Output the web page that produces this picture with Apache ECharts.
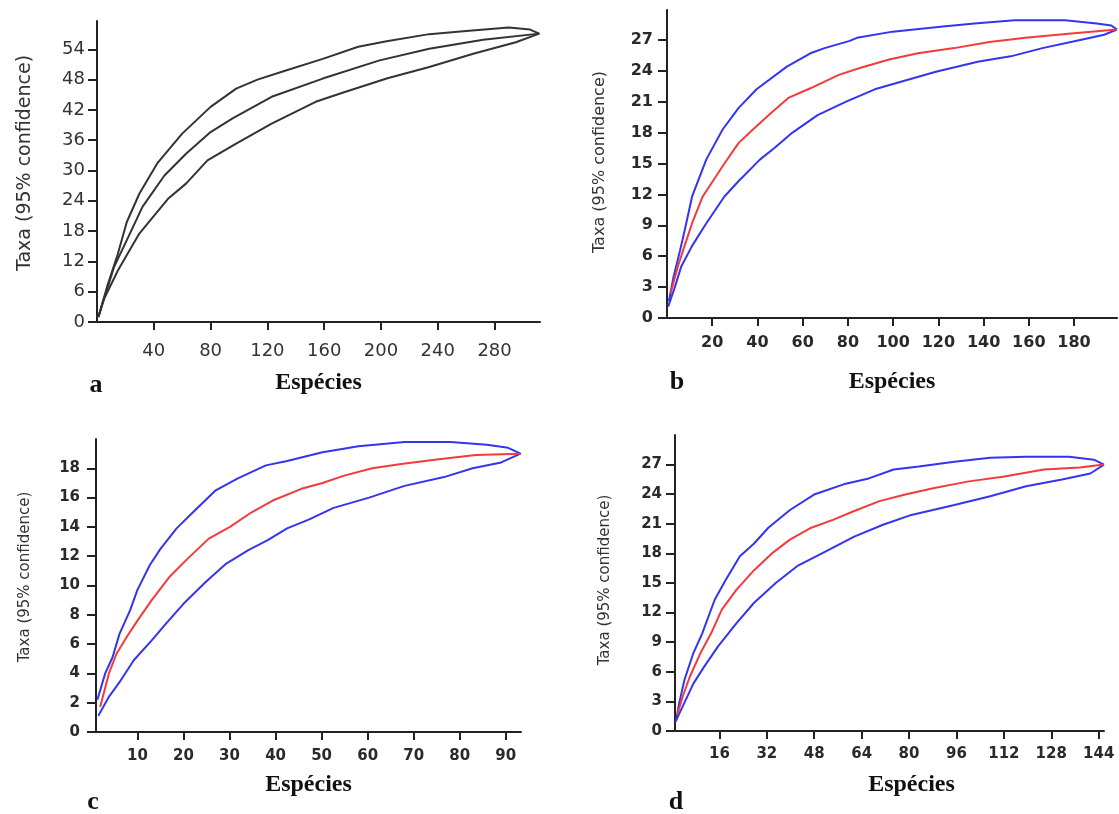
<!DOCTYPE html>
<html>
<head>
<meta charset="utf-8">
<script src="https://cdn.jsdelivr.net/npm/echarts@6/dist/echarts.min.js"></script>
<style>
  html, body { margin: 0; padding: 0; background: #fff; }
  #chart { width: 1119px; height: 814px; }
</style>
</head>
<body>
<div id="chart"></div>
<script>
  // panel a (black curves)
  const aUpper = [[1,1],[7,6.9],[14.7,13.5],[21,19.8],[29.8,25.4],[42.4,31.4],[60,37.3],[80,42.6],[98,46.2],[113,48],[133,49.8],[159,52.1],[184,54.5],[204,55.6],[234,57],[260,57.6],[290,58.3],[305,57.9],[311.5,57.1]]
  const aMean = [[1,1],[6,5.5],[12,10.9],[22,16.8],[32,22.8],[47.5,29],[62.7,33.3],[80,37.6],[95.5,40.3],[123,44.6],[159,48.2],[199,51.8],[234,54.1],[272,55.9],[311.5,57.1]]
  const aLower = [[1,1],[4.5,4.3],[14.7,10.2],[29.8,17.5],[50,24.4],[62.7,27.4],[77.8,32],[98,35.3],[123,39.3],[154,43.6],[174,45.5],[204,48.2],[234,50.5],[265,53.1],[295,55.4],[311.5,57.1]]
  const aYTicks = [0, 6, 12, 18, 24, 30, 36, 42, 48, 54]
  const aXTicks = [40, 80, 120, 160, 200, 240, 280]

  // panel b
  const bUpper = [[0.8,1.6],[2.9,4],[5.5,6.3],[7.9,8.6],[11.1,11.8],[17.4,15.4],[24.6,18.3],[31.7,20.4],[39.6,22.2],[53,24.4],[63.4,25.7],[69.7,26.2],[80.8,26.9],[84,27.2],[99.8,27.8],[122,28.3],[136,28.6],[153.7,28.9],[176,28.9],[190,28.6],[196.5,28.4],[199,28]]
  const bMean = [[1.6,2.4],[4.8,5],[7.9,7.1],[11.1,9.2],[15.8,11.8],[20.6,13.4],[25.4,15],[31.7,17],[38,18.3],[46,19.9],[53.9,21.4],[63.4,22.3],[76,23.6],[85.6,24.3],[98.3,25.1],[111,25.7],[127,26.2],[142.6,26.8],[158.5,27.2],[177.5,27.6],[199,28]]
  const bLower = [[0.5,1.1],[3.2,2.8],[6.3,5],[11.1,7],[17.4,9.2],[25.4,11.8],[31.7,13.3],[41.2,15.4],[47.5,16.5],[55.5,18],[66.6,19.7],[79.2,21],[91.9,22.2],[104.6,23],[118.9,23.9],[137.9,24.9],[152,25.4],[166,26.2],[180.7,26.9],[193.3,27.5],[199,28]]
  const bYTicks = [0, 3, 6, 9, 12, 15, 18, 21, 24, 27]
  const bXTicks = [20, 40, 60, 80, 100, 120, 140, 160, 180]

  // panel c
  const cUpper = [[1.3,2.2],[3,4],[4.6,5.1],[6.1,6.7],[8.4,8.3],[10,9.7],[12.7,11.4],[15,12.5],[18.5,13.9],[22.4,15.1],[27,16.5],[31.7,17.3],[37.9,18.2],[42.5,18.5],[50.2,19.1],[58,19.5],[68,19.8],[78,19.8],[85.9,19.6],[90.5,19.4],[93.2,19]]
  const cMean = [[1.9,1.7],[3.8,4],[5.4,5.3],[7.7,6.5],[10,7.6],[13.1,9],[17,10.6],[20.8,11.8],[25.5,13.2],[30.1,14],[34.8,15],[39.4,15.8],[45.6,16.6],[50.2,17],[54.9,17.5],[61,18],[67.3,18.3],[75,18.6],[83.5,18.9],[93.2,19]]
  const cLower = [[1.5,1.1],[3.8,2.4],[6.1,3.4],[9.2,4.9],[13.1,6.25],[16.2,7.4],[20,8.75],[24.7,10.2],[29.3,11.5],[34,12.4],[38.3,13.1],[42.5,13.9],[47.2,14.5],[52.6,15.3],[60.3,16],[68,16.8],[76.6,17.4],[82.8,18],[89,18.4],[93.2,19]]
  const cYTicks = [0, 2, 4, 6, 8, 10, 12, 14, 16, 18]
  const cXTicks = [10, 20, 30, 40, 50, 60, 70, 80, 90]

  // panel d
  const dUpper = [[1.4,1.1],[2.4,2.8],[4.2,5.2],[7.2,7.9],[10.2,9.9],[14.4,13.3],[18.1,15.3],[22.9,17.7],[27.7,19],[32.5,20.6],[39.8,22.4],[48.2,24],[57.9,25],[66.4,25.6],[74.8,26.5],[83.3,26.8],[95.3,27.3],[107.4,27.7],[119.5,27.8],[134,27.8],[142.4,27.5],[145.8,27]]
  const dMean = [[1.7,1.6],[3.6,3.5],[6,5.5],[9.6,7.9],[13.2,9.9],[16.8,12.3],[21.7,14.3],[27.7,16.3],[33.7,18],[39.8,19.4],[47,20.6],[54.3,21.4],[61.5,22.3],[70,23.3],[78.4,23.95],[88.1,24.6],[100.2,25.3],[112.2,25.8],[125.5,26.5],[137.6,26.7],[145.8,27]]
  const dLower = [[1.1,0.9],[3.6,2.5],[7.2,4.8],[10.8,6.5],[15.6,8.6],[21.7,10.9],[27.7,13],[35,15],[42.2,16.7],[51.9,18.2],[61.5,19.7],[71.2,20.9],[80.8,21.9],[95.3,22.9],[107.4,23.8],[119.5,24.8],[131.6,25.5],[141.2,26.1],[145.8,27]]
  const dYTicks = [0, 3, 6, 9, 12, 15, 18, 21, 24, 27]
  const dXTicks = [16, 32, 48, 64, 80, 96, 112, 128, 144]

  const yTitle = 'Taxa (95% confidence)'
  const xTitle = 'Espécies'

  const chart = echarts.init(document.getElementById('chart'))

  const axisLine = { lineStyle: { color: '#222', width: 2 } }
  const labelB = { fontFamily: 'DejaVu Sans', fontWeight: 'bold', fontSize: 16, color: '#2a2a2a' }
  const labelCD = { fontFamily: 'DejaVu Sans', fontWeight: 'bold', fontSize: 15, color: '#2a2a2a' }
  const labelA = { fontFamily: 'DejaVu Sans', fontSize: 18, color: '#333' }

  function xAxis (idx, min, max, ticks, label, margin, gap, shift) {
    return {
      type: 'value', gridIndex: idx, min: min, max: max,
      name: xTitle, nameLocation: 'middle', nameGap: gap,
      nameTextStyle: { fontFamily: 'Liberation Serif', fontWeight: 'bold', fontSize: 24, color: '#111', padding: [0, 0, 0, shift] },
      splitLine: { show: false },
      axisLine: Object.assign({ onZero: false }, axisLine),
      axisTick: { length: 8, customValues: ticks, lineStyle: { color: '#222', width: 2 } },
      axisLabel: Object.assign({ customValues: ticks, margin: margin }, label)
    }
  }

  function yAxis (idx, min, max, ticks, label, margin) {
    return {
      type: 'value', gridIndex: idx, min: min, max: max,
      splitLine: { show: false },
      axisLine: Object.assign({ onZero: false }, axisLine),
      axisTick: { length: 9, customValues: ticks, lineStyle: { color: '#222', width: 2 } },
      axisLabel: Object.assign({ customValues: ticks, margin: margin }, label)
    }
  }

  function curve (idx, data, color) {
    return {
      type: 'line', xAxisIndex: idx, yAxisIndex: idx, data: data,
      showSymbol: false, smooth: false,
      lineStyle: { color: color, width: 2 }
    }
  }

  const blue = '#3434f0'
  const red = '#f43a3a'
  const black = '#333'

  function letter (x, y, t) {
    return { type: 'text', x: x, y: y, style: { text: t, font: 'bold 26px "Liberation Serif"', fill: '#111', align: 'center', verticalAlign: 'middle' } }
  }
  function ytitle (x, y, size) {
    return { type: 'text', x: x, y: y, rotation: Math.PI / 2, style: { text: yTitle, font: size + 'px "DejaVu Sans"', fill: '#333', align: 'center', verticalAlign: 'middle' } }
  }

  chart.setOption({
    animation: false,
    grid: [
      { left: 97, top: 21, width: 443, height: 301 },
      { left: 667, top: 10, width: 450, height: 308 },
      { left: 96, top: 439, width: 425, height: 293 },
      { left: 675, top: 435, width: 429, height: 296 }
    ],
    xAxis: [
      xAxis(0, 0, 312, aXTicks, labelA, 20, 49, 0),
      xAxis(1, 0, 199, bXTicks, labelB, 17, 52, 0),
      xAxis(2, 1, 93.3, cXTicks, labelCD, 17, 41, 0),
      xAxis(3, 1, 145.8, dXTicks, labelCD, 16, 42, 44)
    ],
    yAxis: [
      yAxis(0, 0, 59.6, aYTicks, labelA, 12),
      yAxis(1, 0, 29.9, bYTicks, labelB, 14),
      yAxis(2, 0, 20, cYTicks, labelCD, 16),
      yAxis(3, 0, 30, dYTicks, labelCD, 13)
    ],
    series: [
      curve(0, aUpper, black), curve(0, aMean, black), curve(0, aLower, black),
      curve(1, bUpper, blue), curve(1, bLower, blue), curve(1, bMean, red),
      curve(2, cUpper, blue), curve(2, cLower, blue), curve(2, cMean, red),
      curve(3, dUpper, blue), curve(3, dLower, blue), curve(3, dMean, red)
    ],
    graphic: [
      ytitle(25, 163, 19), ytitle(600, 162, 16), ytitle(25, 577, 15), ytitle(605, 580, 15),
      letter(96, 385, 'a'), letter(677, 382, 'b'), letter(93, 802, 'c'), letter(676, 802, 'd')
    ]
  })
</script>
</body>
</html>
